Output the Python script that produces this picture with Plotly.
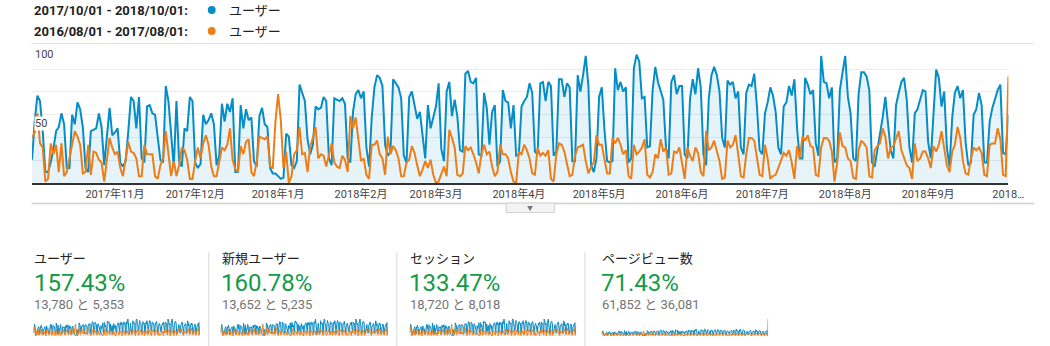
import plotly.graph_objects as go
import pandas as pd

W, H = 1050, 346
FONT = "Roboto, 'Noto Sans CJK JP', sans-serif"
BLUE = "#058dc7"
ORANGE = "#ed7e17"
GREEN = "#149b47"


def px_x(x):
    return x / W


def px_y(y):
    return 1 - y / H


# daily users, 2017/10/01 - 2018/10/01 (one row per week, Sunday first)
users_cur = [
    17, 45, 64, 60, 38, 8, 8,
    15, 25, 38, 41, 51, 43, 11,
    11, 50, 43, 59, 54, 41, 11,
    8, 38, 39, 40, 51, 41, 13,
    33, 55, 35, 37, 40, 15, 12,
    16, 38, 63, 60, 40, 63, 18,
    15, 56, 57, 51, 50, 34, 17,
    15, 71, 60, 38, 12, 60, 16,
    12, 40, 38, 63, 60, 15, 11,
    14, 50, 43, 46, 51, 43, 13,
    20, 58, 45, 58, 52, 62, 8,
    8, 57, 40, 54, 46, 48, 16,
    12, 49, 55, 43, 41, 11, 7,
    7, 5, 3, 4, 36, 34, 13,
    11, 16, 72, 66, 60, 32, 21,
    28, 56, 54, 55, 63, 60, 18,
    13, 62, 61, 60, 62, 58, 18,
    15, 52, 65, 68, 62, 67, 26,
    12, 48, 70, 79, 77, 71, 28,
    20, 23, 76, 73, 70, 62, 20,
    15, 63, 67, 58, 47, 52, 34,
    18, 57, 40, 48, 56, 73, 25,
    16, 67, 74, 49, 61, 49, 24,
    23, 80, 82, 74, 73, 77, 21,
    20, 66, 55, 28, 52, 57, 12,
    16, 68, 60, 59, 40, 57, 20,
    21, 56, 60, 63, 73, 66, 23,
    21, 73, 74, 60, 74, 71, 20,
    23, 76, 76, 63, 73, 70, 16,
    16, 79, 67, 79, 93, 71, 13,
    8, 18, 63, 70, 39, 16, 15,
    16, 84, 68, 74, 67, 70, 15,
    18, 84, 94, 89, 62, 63, 26,
    27, 68, 85, 74, 68, 61, 26,
    18, 74, 79, 65, 71, 71, 21,
    18, 62, 76, 65, 84, 70, 21,
    13, 62, 79, 85, 79, 67, 33,
    26, 75, 72, 74, 62, 67, 26,
    21, 66, 72, 71, 80, 56, 24,
    21, 51, 59, 70, 64, 52, 26,
    21, 56, 59, 71, 64, 76, 40,
    18, 18, 77, 72, 65, 68, 29,
    20, 93, 74, 73, 62, 70, 15,
    18, 68, 81, 93, 63, 51, 18,
    16, 65, 81, 81, 78, 68, 15,
    12, 24, 33, 48, 63, 41, 24,
    18, 57, 66, 74, 77, 61, 26,
    15, 51, 54, 61, 68, 67, 30,
    18, 51, 83, 77, 56, 67, 26,
    12, 48, 66, 71, 62, 68, 30,
    13, 15, 50, 54, 66, 57, 15,
    15, 45, 55, 62, 68, 72, 22,
    21, 50,
]

# daily users, 2016/08/01 - 2017/08/01, aligned day by day with the range above
users_prev = [
    33, 37, 51, 29, 26, 1, 3,
    29, 21, 28, 8, 29, 5, 8,
    18, 28, 38, 34, 28, 7, 8,
    28, 6, 23, 22, 17, 15, 1,
    16, 33, 26, 21, 23, 11, 5,
    18, 30, 23, 22, 18, 5, 5,
    28, 21, 21, 21, 5, 3, 13,
    18, 38, 21, 5, 16, 5, 13,
    26, 24, 17, 3, 3, 16, 26,
    18, 29, 35, 28, 12, 5, 5,
    16, 26, 24, 28, 40, 17, 10,
    8, 27, 21, 30, 32, 8, 5,
    16, 34, 33, 32, 34, 12, 11,
    45, 65, 46, 11, 23, 0, 5,
    21, 24, 41, 21, 22, 8, 27,
    33, 41, 18, 21, 20, 12, 20,
    29, 15, 12, 11, 20, 17, 8,
    49, 40, 48, 33, 16, 18, 6,
    3, 28, 28, 31, 21, 18, 6,
    34, 21, 27, 24, 18, 5, 5,
    15, 17, 27, 22, 13, 5, 10,
    16, 11, 17, 6, 0, 1, 7,
    12, 5, 39, 33, 26, 6, 5,
    7, 27, 24, 26, 21, 15, 7,
    21, 28, 21, 23, 12, 5, 8,
    28, 21, 21, 18, 8, 1, 0,
    23, 21, 28, 24, 18, 7, 6,
    26, 20, 22, 20, 24, 3, 1,
    21, 29, 28, 23, 13, 5, 6,
    20, 26, 27, 28, 16, 7, 12,
    15, 35, 28, 28, 16, 7, 7,
    33, 29, 33, 28, 21, 24, 5,
    3, 28, 21, 23, 26, 32, 6,
    4, 8, 21, 18, 32, 23, 26,
    6, 7, 23, 22, 26, 15, 3,
    26, 20, 16, 26, 22, 8, 5,
    38, 24, 26, 31, 23, 16, 3,
    4, 31, 26, 28, 35, 21, 5,
    4, 21, 33, 33, 31, 20, 6,
    5, 28, 18, 3, 5, 6, 11,
    16, 22, 20, 24, 15, 3, 27,
    18, 34, 31, 35, 27, 26, 6,
    5, 26, 33, 33, 31, 23, 1,
    15, 37, 27, 26, 18, 16, 4,
    3, 24, 31, 29, 26, 5, 4,
    24, 27, 29, 40, 34, 18, 26,
    27, 33, 38, 24, 18, 13, 11,
    3, 29, 16, 18, 23, 23, 18,
    11, 27, 23, 28, 38, 26, 13,
    8, 23, 28, 41, 33, 16, 7,
    6, 18, 26, 24, 26, 22, 6,
    5, 28, 29, 29, 40, 32, 6,
    5, 78,
]

dates = pd.date_range("2017-10-01", "2018-10-01", freq="D")

tick_dates = ["2017-11-01", "2017-12-01", "2018-01-01", "2018-02-01",
              "2018-03-01", "2018-04-01", "2018-05-01", "2018-06-01",
              "2018-07-01", "2018-08-01", "2018-09-01", "2018-10-01"]
tick_labels = ["2017年11月", "2017年12月", "2018年1月", "2018年2月",
               "2018年3月", "2018年4月", "2018年5月", "2018年6月",
               "2018年7月", "2018年8月", "2018年9月", "2018…"]
grid_values = [16.67, 33.33, 50, 66.67, 83.33]
y_labels = [100, 50]

range_cur = "2017/10/01 - 2018/10/01:"
range_prev = "2016/08/01 - 2017/08/01:"
series_name = "ユーザー"

card_titles = ["ユーザー", "新規ユーザー", "セッション", "ページビュー数"]
card_changes = ["157.43%", "160.78%", "133.47%", "71.43%"]
card_totals = ["13,780 と 5,353", "13,652 と 5,235", "18,720 と 8,018", "61,852 と 36,081"]
# page views on the last comparison day jump far above the daily pattern
pv_prev_last_day = 230
spark_ymax = [96, 96, 96, 232]

card_x = [33, 223, 414, 609]
spark_px = [(34, 203), (224, 394), (416, 585), (611, 780)]
divider_x = [212, 403, 594]

fig = go.Figure()

# main chart
fig.add_trace(go.Scatter(
    x=dates, y=users_cur, mode="lines", line=dict(color=BLUE, width=2),
    fill="tozeroy", fillcolor="rgba(5,141,199,0.10)", hoverinfo="skip",
    xaxis="x", yaxis="y"))
fig.add_trace(go.Scatter(
    x=dates, y=users_prev, mode="lines", line=dict(color=ORANGE, width=2),
    hoverinfo="skip", xaxis="x", yaxis="y"))

layout = dict(
    width=W, height=H, margin=dict(l=0, r=0, t=0, b=0),
    paper_bgcolor="white", plot_bgcolor="rgba(0,0,0,0)",
    showlegend=False, font=dict(family=FONT),
    xaxis=dict(domain=[px_x(32.5), px_x(1024)], type="date",
               range=[dates[0], dates[-1]], tickvals=tick_dates, ticktext=tick_labels,
               tickfont=dict(size=11, color="#444"), ticks="", showgrid=False,
               showline=True, linecolor="#333", linewidth=1.5, zeroline=False,
               anchor="y", fixedrange=True),
    yaxis=dict(domain=[px_y(183), px_y(46.4)], range=[0, 100], tickvals=grid_values,
               showticklabels=False, showgrid=True, gridcolor="#ededed", gridwidth=1,
               zeroline=False, showline=False, anchor="x", fixedrange=True),
)

# sparklines under each metric
for i, (x0, x1) in enumerate(spark_px):
    n = i + 2
    prev_vals = users_prev if i < 3 else users_prev[:-1] + [pv_prev_last_day]
    fig.add_trace(go.Scatter(
        x=dates, y=users_cur, mode="lines", line=dict(color=BLUE, width=1),
        fill="tozeroy", fillcolor="#e4e4e4", hoverinfo="skip",
        xaxis=f"x{n}", yaxis=f"y{n}"))
    fig.add_trace(go.Scatter(
        x=dates, y=prev_vals, mode="lines", line=dict(color=ORANGE, width=1),
        hoverinfo="skip", xaxis=f"x{n}", yaxis=f"y{n}"))
    layout[f"xaxis{n}"] = dict(domain=[px_x(x0), px_x(x1)], range=[dates[0], dates[-1]],
                               visible=False, anchor=f"y{n}", fixedrange=True)
    layout[f"yaxis{n}"] = dict(domain=[px_y(336), px_y(318.5)], range=[0, spark_ymax[i]],
                               visible=False, anchor=f"x{n}", fixedrange=True)

fig.update_layout(**layout)

shapes = []
annotations = []

# legend rows
for row, (label, color) in enumerate([(range_cur, BLUE), (range_prev, ORANGE)]):
    yc = 10 + row * 21
    annotations.append(dict(text=f"<b>{label}</b>", x=px_x(32), y=px_y(yc),
                            xref="paper", yref="paper", xanchor="left", yanchor="middle",
                            showarrow=False, font=dict(size=13, color="#222")))
    shapes.append(dict(type="circle", xref="paper", yref="paper",
                       x0=px_x(211), x1=px_x(219), y0=px_y(yc + 4), y1=px_y(yc - 4),
                       fillcolor=color, line=dict(width=0)))
    annotations.append(dict(text=series_name, x=px_x(231), y=px_y(yc),
                            xref="paper", yref="paper", xanchor="left", yanchor="middle",
                            showarrow=False, font=dict(size=13, color="#222")))

# separators around the chart
shapes.append(dict(type="line", xref="paper", yref="paper", x0=px_x(32), x1=1,
                   y0=px_y(43.5), y1=px_y(43.5), line=dict(color="#e3e3e3", width=1)))
shapes.append(dict(type="line", xref="paper", yref="paper", x0=px_x(32), x1=1,
                   y0=px_y(203.5), y1=px_y(203.5), line=dict(color="#d0d0d0", width=1.5)))
shapes.append(dict(type="rect", xref="paper", yref="paper", x0=px_x(514), x1=px_x(563),
                   y0=px_y(212.5), y1=px_y(203), fillcolor="#f3f3f3",
                   line=dict(color="#d0d0d0", width=1)))
annotations.append(dict(text="▼", x=px_x(538.5), y=px_y(207.5), xref="paper", yref="paper",
                        xanchor="center", yanchor="middle", showarrow=False,
                        font=dict(size=6, color="#777")))

# value labels on the y axis
for v in y_labels:
    annotations.append(dict(text=str(v), x=px_x(35), y=v, xref="paper", yref="y",
                            xanchor="left", yanchor="top", yshift=-1, showarrow=False,
                            bgcolor="white" if v < 100 else None, borderpad=0,
                            font=dict(size=11, color="#444")))

# metric cards
for i in range(4):
    x = card_x[i]
    annotations.append(dict(text=card_titles[i], x=px_x(x), y=px_y(258), xref="paper",
                            yref="paper", xanchor="left", yanchor="middle", showarrow=False,
                            font=dict(size=13, color="#222")))
    annotations.append(dict(text=card_changes[i], x=px_x(x - 1), y=px_y(283), xref="paper",
                            yref="paper", xanchor="left", yanchor="middle", showarrow=False,
                            font=dict(size=24, color=GREEN)))
    annotations.append(dict(text=card_totals[i], x=px_x(x), y=px_y(304.5), xref="paper",
                            yref="paper", xanchor="left", yanchor="middle", showarrow=False,
                            font=dict(size=13, color="#757575")))
for x in divider_x:
    shapes.append(dict(type="line", xref="paper", yref="paper", x0=px_x(x), x1=px_x(x),
                       y0=px_y(252), y1=0, line=dict(color="#d9d9d9", width=1)))

fig.update_layout(shapes=shapes, annotations=annotations)
fig.write_html("out.html", config={"displayModeBar": False})
